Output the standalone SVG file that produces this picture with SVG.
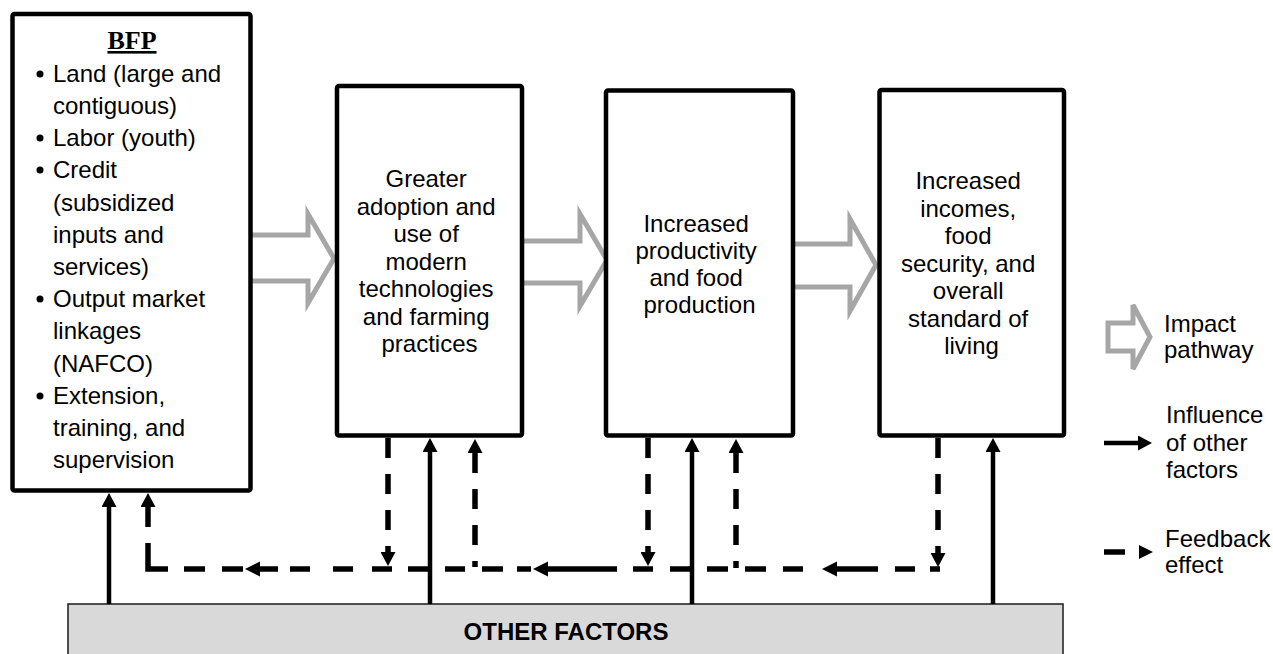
<svg xmlns="http://www.w3.org/2000/svg" width="1273" height="654" viewBox="0 0 1273 654">
  <style>
    .box { fill: #ffffff; stroke: #000000; stroke-width: 4.5; }
    .txt { font-family: "Liberation Sans", Arial, sans-serif; font-size: 24px; fill: #000000; }
    .mid { text-anchor: middle; }
    .title { font-family: "Liberation Serif", "Times New Roman", serif; font-size: 26px; font-weight: bold; text-decoration: underline; text-anchor: middle; }
    .impact { fill: #ffffff; stroke: #a6a6a6; stroke-width: 5; stroke-linejoin: miter; }
    .solid { fill: none; stroke: #000000; stroke-width: 4.5; }
    .fb { fill: none; stroke: #000000; stroke-width: 5.5; stroke-dasharray: 20 16; }
    .fbseg { fill: none; stroke: #000000; stroke-width: 5.5; stroke-linejoin: miter; }
    .head { fill: #000000; }
    .base { fill: #d9d9d9; stroke: #1a1a1a; stroke-width: 1.5; }
    .bold { font-weight: bold; }
  </style>
  <defs>
    <marker id="ah" viewBox="0 0 14 15" refX="0" refY="7.5" markerWidth="14" markerHeight="15" markerUnits="userSpaceOnUse" orient="auto-start-reverse">
      <path d="M0,0 L14,7.5 L0,15 Z" fill="#000000"/>
    </marker>
  </defs>

  <!-- impact pathway block arrows (drawn under the boxes) -->
  <g id="impact-arrows">
    <path class="impact" d="M250,235 H308 V214 L334,258.5 L308,303 V281 H250"/>
    <path class="impact" d="M522,241 H580 V214 L607,260 L580,306 V283 H522"/>
    <path class="impact" d="M793,244 H850 V219 L876,265 L850,311 V287 H793"/>
  </g>

  <!-- other factors bar -->
  <g id="other-factors">
    <rect class="base" x="68" y="604" width="995" height="60"/>
    <text class="txt bold mid" x="566" y="640">OTHER FACTORS</text>
  </g>

  <!-- BFP inputs -->
  <g id="bfp">
    <rect class="box" x="12.5" y="14" width="238" height="476.5" rx="2"/>
    <text class="title" x="132" y="49">BFP</text>
    <g class="head">
      <circle cx="40" cy="74" r="3.5"/>
      <circle cx="40" cy="138" r="3.5"/>
      <circle cx="40" cy="170" r="3.5"/>
      <circle cx="40" cy="299" r="3.5"/>
      <circle cx="40" cy="396" r="3.5"/>
    </g>
    <text class="txt" x="53" y="82">Land (large and</text>
    <text class="txt" x="53" y="114">contiguous)</text>
    <text class="txt" x="53" y="146">Labor (youth)</text>
    <text class="txt" x="53" y="178">Credit</text>
    <text class="txt" x="53" y="210.5">(subsidized</text>
    <text class="txt" x="53" y="242.5">inputs and</text>
    <text class="txt" x="53" y="275">services)</text>
    <text class="txt" x="53" y="307">Output market</text>
    <text class="txt" x="53" y="339">linkages</text>
    <text class="txt" x="53" y="371.5">(NAFCO)</text>
    <text class="txt" x="53" y="404">Extension,</text>
    <text class="txt" x="53" y="436">training, and</text>
    <text class="txt" x="53" y="468">supervision</text>
  </g>

  <!-- adoption -->
  <g id="adoption">
    <rect class="box" x="337" y="86" width="185" height="349.5" rx="2"/>
    <text class="txt mid" x="429.5" y="187">
      <tspan x="429.5">Greater</tspan>
      <tspan x="429.5" dy="27.5">adoption and</tspan>
      <tspan x="429.5" dy="27.5">use of</tspan>
      <tspan x="429.5" dy="27.5">modern</tspan>
      <tspan x="429.5" dy="27.5">technologies</tspan>
      <tspan x="429.5" dy="27.5">and farming</tspan>
      <tspan x="429.5" dy="27.5">practices</tspan>
    </text>
  </g>

  <!-- productivity -->
  <g id="productivity">
    <rect class="box" x="606" y="90.5" width="187" height="345" rx="2"/>
    <text class="txt mid" x="699.5" y="231.5">
      <tspan x="699.5">Increased</tspan>
      <tspan x="699.5" dy="27">productivity</tspan>
      <tspan x="699.5" dy="27">and food</tspan>
      <tspan x="699.5" dy="27">production</tspan>
    </text>
  </g>

  <!-- welfare outcomes -->
  <g id="welfare">
    <rect class="box" x="879.5" y="90" width="184.5" height="345.5" rx="2"/>
    <text class="txt mid" x="971.5" y="189">
      <tspan x="971.5">Increased</tspan>
      <tspan x="971.5" dy="27.5">incomes,</tspan>
      <tspan x="971.5" dy="27.5">food</tspan>
      <tspan x="971.5" dy="27.5">security, and</tspan>
      <tspan x="971.5" dy="27.5">overall</tspan>
      <tspan x="971.5" dy="27.5">standard of</tspan>
      <tspan x="971.5" dy="27.5">living</tspan>
    </text>
  </g>

  <!-- connectors: influence of other factors and feedback effects -->
  <g id="connectors">
    <!-- influence of other factors -->
    <path class="solid" d="M109,604 V507" marker-end="url(#ah)"/>
    <path class="solid" d="M430,604 V452" marker-end="url(#ah)"/>
    <path class="solid" d="M692,604 V452" marker-end="url(#ah)"/>
    <path class="solid" d="M993,604 V452" marker-end="url(#ah)"/>

    <!-- feedback drops from each outcome box -->
    <path class="fb" d="M388,438 V552" stroke-dasharray="19 16" marker-end="url(#ah)"/>
    <path class="fb" d="M648,438 V552" stroke-dasharray="19 16" marker-end="url(#ah)"/>
    <path class="fb" d="M938,438 V553" stroke-dasharray="20 15" marker-end="url(#ah)"/>

    <!-- feedback rises into earlier stages -->
    <path class="fb" d="M475,453 V567" marker-start="url(#ah)"/>
    <path class="fb" d="M736,453 V568" marker-start="url(#ah)"/>
    <path class="fb" d="M148,507 V527" marker-start="url(#ah)"/>

    <!-- feedback return line -->
    <path class="fbseg" d="M148,543 V569 H168 M184,569 H205 M222,569 H243 M258,569 H278 M290,569 H310 M333,569 H353 M372,569 H392 M408,569 H428 M445,569 H465 M482,569 H503 M517,569 H531 M546,569 H617 M633,569 H653 M670,569 H690 M707,569 H728 M745,569 H766 M783,569 H803 M835,569 H878 M895,569 H915 M930,569 H940"/>
    <polygon class="head" points="245,569 260,561.5 260,576.5"/>
    <polygon class="head" points="533,569 548,561.5 548,576.5"/>
    <polygon class="head" points="822,569 837,561.5 837,576.5"/>
  </g>

  <!-- legend -->
  <g id="legend">
    <path class="impact" d="M1108,323 H1133 V305 L1150,337 L1133,369 V351 H1108 Z"/>
    <text class="txt" x="1164" y="332">Impact</text>
    <text class="txt" x="1164" y="358">pathway</text>

    <path class="solid" d="M1104,443 H1138" stroke-width="3.5" marker-end="url(#ah)"/>
    <text class="txt" x="1166" y="423">Influence</text>
    <text class="txt" x="1166" y="450.5">of other</text>
    <text class="txt" x="1166" y="478">factors</text>

    <path class="fbseg" d="M1104,552 H1125"/>
    <polygon class="head" points="1153,552 1139,545 1139,559"/>
    <text class="txt" x="1165" y="547">Feedback</text>
    <text class="txt" x="1165" y="573">effect</text>
  </g>
</svg>
